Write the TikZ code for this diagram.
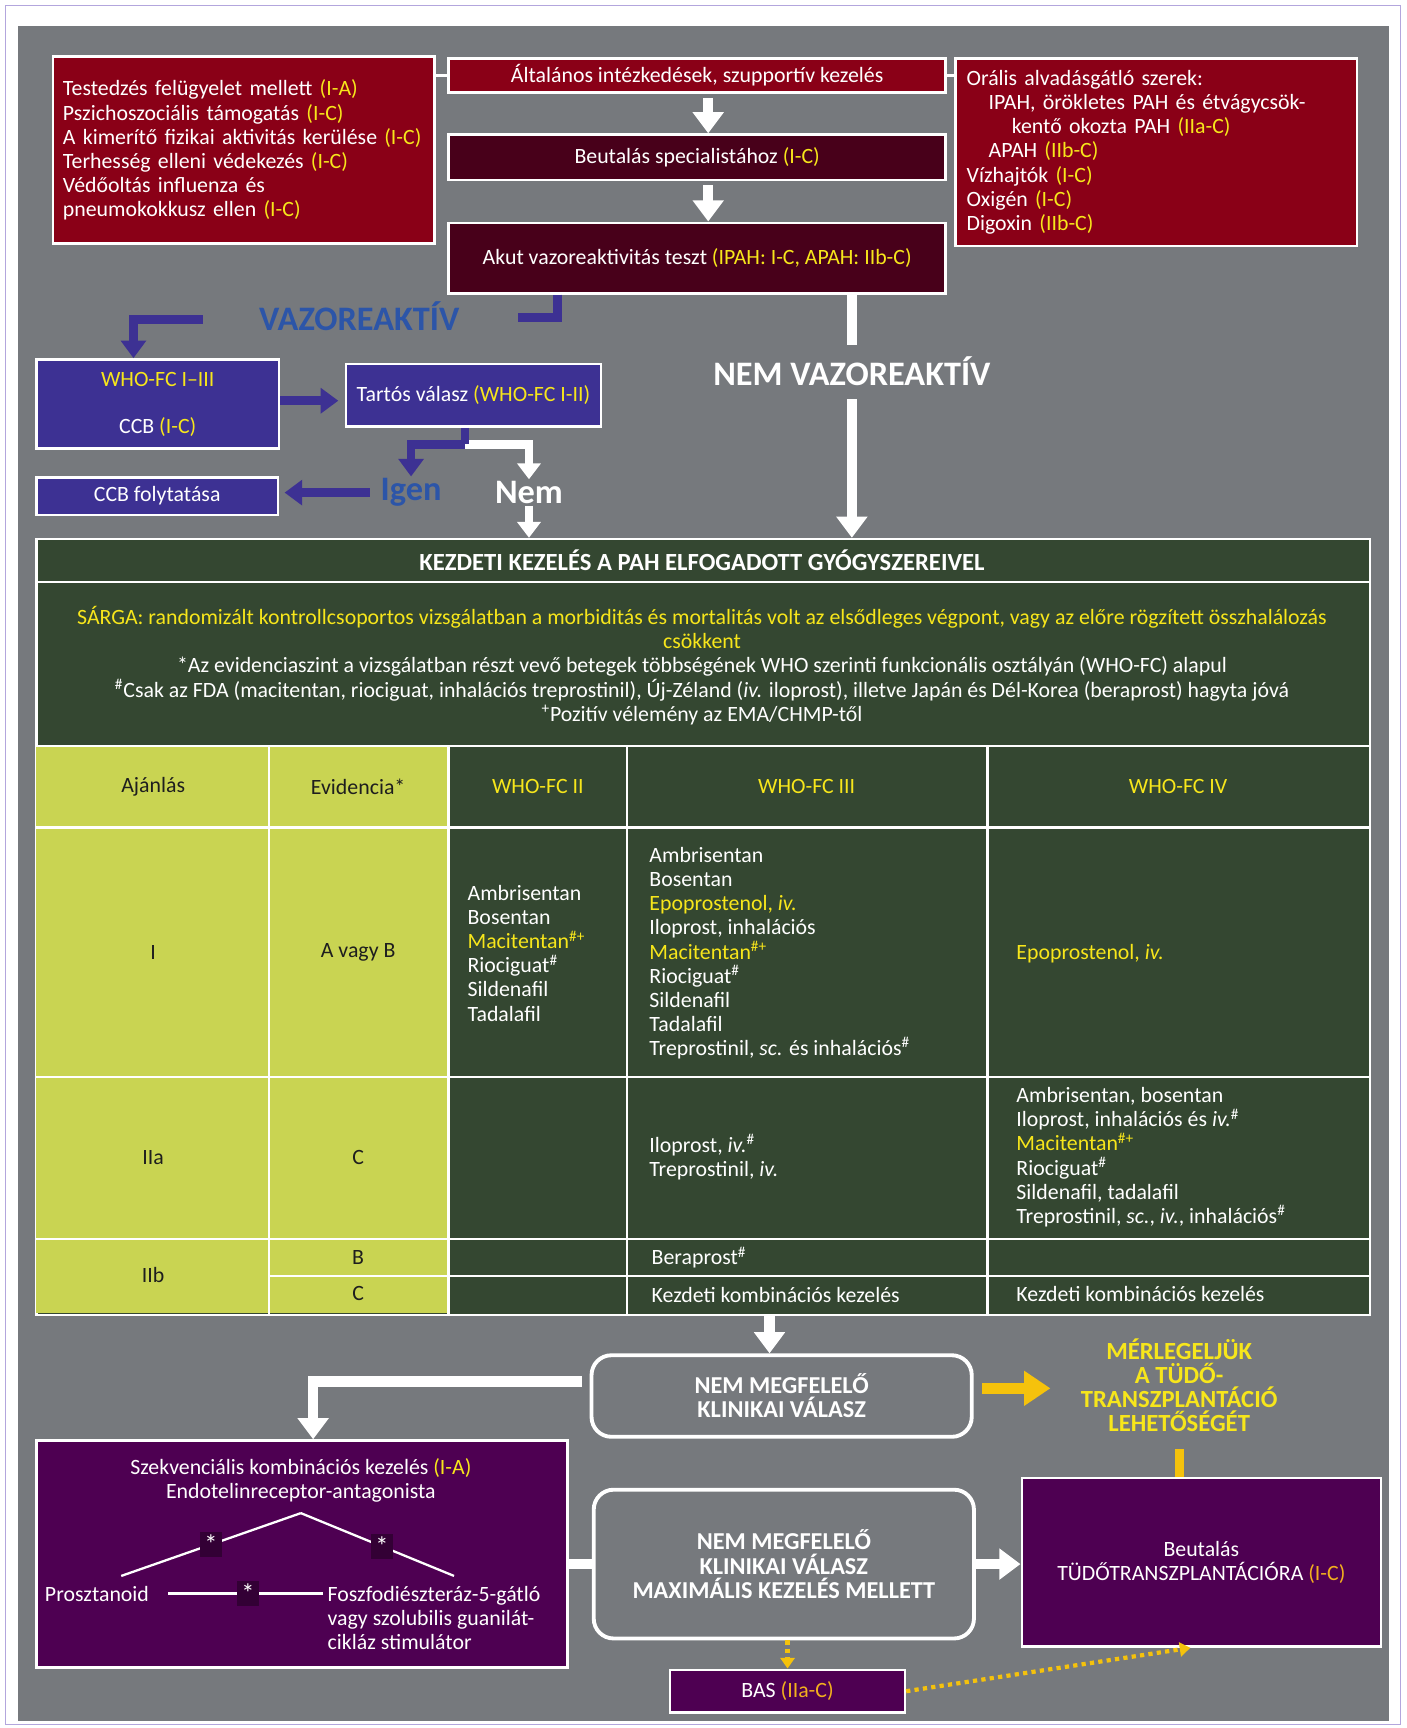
\documentclass[tikz,border=0pt]{standalone}
\usepackage{fontspec}
\setmainfont{Carlito}
\usepackage{xcolor}
\usepackage{tikz}
\usetikzlibrary{arrows.meta,positioning,calc}
\definecolor{panel}{HTML}{76797D}
\definecolor{frameline}{HTML}{B3A6DD}
\definecolor{blood}{HTML}{8A0017}
\definecolor{maroon}{HTML}{48001A}
\definecolor{indigo}{HTML}{3D3193}
\definecolor{skyink}{HTML}{2C55A8}
\definecolor{forest}{HTML}{344731}
\definecolor{lime}{HTML}{C9D452}
\definecolor{plum}{HTML}{4E0052}
\definecolor{lemon}{HTML}{F7E61B}
\definecolor{amber}{HTML}{F5C20C}
\definecolor{ochre}{HTML}{F2B01E}
\definecolor{ink}{HTML}{1E1E1E}
\newlength\px
\setlength\px{0.022cm}
\newcommand{\hl}[1]{\textcolor{lemon}{#1}}
\newcommand{\sh}{\textsuperscript{\#}}
\newcommand{\shp}{\textsuperscript{\#+}}
\newcommand{\lowstar}{\raisebox{-0.35ex}{*}}
\tikzset{
  panelbox/.style={
    rectangle, draw=white, fill=#1, line width=1.4pt,
    text=white, anchor=north west, inner sep=0pt, align=center
  },
  panelbox/.default=blood,
  roundbox/.style={
    rectangle, rounded corners=18\px, draw=white, line width=2.2pt,
    text=white, anchor=north west, inner sep=0pt, align=center,
    font=\bfseries\fontsize{13.8}{13.7}\selectfont
  },
  bigword/.style={font=\bfseries\fontsize{19.5}{21}\selectfont, inner sep=1pt},
  celltext/.style={text=ink, inner sep=0pt},
  druglist/.style={text=white, anchor=west, align=left, inner sep=0pt},
  gridline/.style={draw=white, line width=1.3pt},
  stub/.style={draw=white, line width=1.6pt},
  whiteline/.style={draw=white, line width=6pt},
  whitearrow/.style={-{Triangle[width=17pt, length=12pt]}, draw=white, line width=6pt},
  smallarrow/.style={-{Triangle[width=13pt, length=9pt]}, draw=white, line width=5pt},
  blueline/.style={draw=indigo, line width=5pt},
  bluearrow/.style={-{Triangle[width=14pt, length=10pt]}, draw=indigo, line width=5pt},
  goldline/.style={draw=amber, line width=5pt},
  goldarrow/.style={-{Triangle[width=19pt, length=15pt]}, draw=amber, line width=6pt},
  dotarrow/.style={-{Triangle[width=8pt, length=6pt]}, draw=amber, line width=2.4pt,
    dash pattern=on 2.4pt off 2.4pt},
  treeline/.style={draw=white, line width=1.3pt},
  starmark/.style={fill=plum!65!black, text=white, inner xsep=2.5pt, inner ysep=2pt,
    font=\fontsize{15}{15}\selectfont}
}
\begin{document}
\begin{tikzpicture}[x=0.022cm, y=-0.022cm, font=\fontsize{12.4}{13.7}\selectfont]
  \useasboundingbox (0,0) rectangle (1276,1568);
  \fill[white] (0,0) rectangle (1276,1568);
  \draw[frameline, line width=0.8pt] (5,5) rectangle (1271,1565);
  \fill[panel] (16,24) rectangle (1260,1562);

  \node[panelbox, minimum width=346\px, minimum height=170\px, text width=328\px, align=left] at (47,50) (care) {Testedzés felügyelet mellett \hl{(I-A)}\\
    Pszichoszociális támogatás \hl{(I-C)}\\
    A kimerítő fizikai aktivitás kerülése \hl{(I-C)}\\
    Terhesség elleni védekezés \hl{(I-C)}\\
    Védőoltás influenza és\\
    pneumokokkusz ellen \hl{(I-C)}};
  \node[panelbox, minimum width=451\px, minimum height=31\px] at (406,52) (general) {Általános intézkedések, szupportív kezelés};
  \node[panelbox, minimum width=364\px, minimum height=170\px, text width=344\px, align=left] at (866,52) (oral) {Orális alvadásgátló szerek:\\
    \hspace*{20\px}IPAH, örökletes PAH és étvágycsök-\\
    \hspace*{41\px}kentő okozta PAH \hl{(IIa-C)}\\
    \hspace*{20\px}APAH \hl{(IIb-C)}\\
    Vízhajtók \hl{(I-C)}\\
    Oxigén \hl{(I-C)}\\
    Digoxin \hl{(IIb-C)}};
  \node[panelbox=maroon, minimum width=451\px, minimum height=41\px] at (406,121) (referral) {Beutalás specialistához \hl{(I-C)}};
  \node[panelbox=maroon, minimum width=451\px, minimum height=64\px] at (406,201) (acute) {Akut vazoreaktivitás teszt \hl{(IPAH: I-C, APAH: IIb-C)}};
  \draw[stub] (care.east |- general.west) -- (general.west);
  \draw[stub] (general.east) -- (general.east -| oral.west);
  \draw[whitearrow, shorten <=4\px] ([xshift=10\px]general.south) -- ([xshift=10\px]referral.north);
  \draw[whitearrow, shorten <=4\px] ([xshift=10\px]referral.south) -- ([xshift=10\px]acute.north);

  \node[bigword, text=skyink] at (326,287) (vazo) {VAZOREAKTÍV};
  \coordinate (vazoR) at (470,288);
  \coordinate (vazoL) at (184,290);
  \draw[blueline] ([xshift=-127\px]acute.south) |- (vazoR);
  \node[panelbox=indigo, minimum width=220\px, minimum height=81\px] at (32,325) (fc13) {\hl{WHO-FC I–III}\\[13pt]CCB \hl{(I-C)}};
  \draw[bluearrow] (vazoL) -| ([xshift=-22\px]fc13.north);
  \node[panelbox=indigo, minimum width=231\px, minimum height=57\px] at (313,329) (durable) {Tartós válasz \hl{(WHO-FC I-II)}};
  \draw[bluearrow, shorten >=6\px] ([yshift=3\px]fc13.east) -- ([yshift=3\px]fc13.east -| durable.west);
  \node[bigword, text=skyink] at (373,447) (yes) {Igen};
  \node[bigword, text=white] at (480,447) (no) {Nem};
  \coordinate (split) at (422,403);
  \draw[smallarrow] (split) -| (no.north);
  \draw[blueline] (durable.south -| split) -- (split);
  \draw[bluearrow] (split) -| (yes.north);
  \node[panelbox=indigo, minimum width=219\px, minimum height=34\px] at (32,432) (ccbgo) {CCB folytatása};
  \draw[bluearrow, shorten <=8\px, shorten >=5\px] (yes.west) -- (yes.west -| ccbgo.east);

  \node[bigword, text=white] at (773,337) (novazo) {NEM VAZOREAKTÍV};
  \draw[whiteline] (acute.south -| novazo.north) -- ([yshift=9\px]novazo.north);

  \node[panelbox=forest, minimum width=1210\px, minimum height=704\px] at (32,488) (initial) {};
  \draw[smallarrow] (no.south) -- (no.south |- initial.north);
  \draw[whitearrow] ([yshift=-10\px]novazo.south) -- (novazo.south |- initial.north);
  \fill[lime] (33,677) rectangle (407,1191);
  \foreach \yy in {528,677,751,977,1124} { \draw[gridline] (32,\yy) -- (1242,\yy); }
  \draw[gridline] (244,1158) -- (1242,1158);
  \foreach \xx in {244,407,569,896} { \draw[gridline] (\xx,677) -- (\xx,1192); }
  \node[font=\bfseries\fontsize{14}{14}\selectfont, text=white] at (637,508) (title) {KEZDETI KEZELÉS A PAH ELFOGADOTT GYÓGYSZEREIVEL};
  \node[text=white, align=center] at (637,604) (notes) {\hl{SÁRGA: randomizált kontrollcsoportos vizsgálatban a morbiditás és mortalitás volt az elsődleges végpont, vagy az előre rögzített összhalálozás}\\
    \hl{csökkent}\\
    *Az evidenciaszint a vizsgálatban részt vevő betegek többségének WHO szerinti funkcionális osztályán (WHO-FC) alapul\\
    \sh Csak az FDA (macitentan, riociguat, inhalációs treprostinil), Új-Zéland (\textit{iv.} iloprost), illetve Japán és Dél-Korea (beraprost) hagyta jóvá\\
    \textsuperscript{+}Pozitív vélemény az EMA/CHMP-től};

  \node[celltext] at (139,714) (hrec) {Ajánlás};
  \node[celltext] at (325,714) (hev) {Evidencia*};
  \node[text=lemon] at (488,714) (hfc2) {WHO-FC II};
  \node[text=lemon] at (732,714) (hfc3) {WHO-FC III};
  \node[text=lemon] at (1069,714) (hfc4) {WHO-FC IV};

  \node[celltext] at (139,864) (rec1) {I};
  \node[celltext] at (325,864) (ev1) {A vagy B};
  \node[druglist] at (424,865) (d12) {Ambrisentan\\Bosentan\\\hl{Macitentan\shp}\\Riociguat\sh\\Sildenafil\\Tadalafil};
  \node[druglist] at (589,865) (d13) {Ambrisentan\\Bosentan\\\hl{Epoprostenol, \textit{iv.}}\\Iloprost, inhalációs\\\hl{Macitentan\shp}\\Riociguat\sh\\Sildenafil\\Tadalafil\\Treprostinil, \textit{sc.} és inhalációs\sh};
  \node[druglist] at (922,865) (d14) {\hl{Epoprostenol, \textit{iv.}}};

  \node[celltext] at (139,1050) (rec2) {IIa};
  \node[celltext] at (325,1050) (ev2) {C};
  \node[druglist] at (589,1050) (d23) {Iloprost, \textit{iv.}\sh\\Treprostinil, \textit{iv.}};
  \node[druglist] at (922,1050) (d24) {Ambrisentan, bosentan\\Iloprost, inhalációs és \textit{iv.}\sh\\\hl{Macitentan\shp}\\Riociguat\sh\\Sildenafil, tadalafil\\Treprostinil, \textit{sc.}, \textit{iv.}, inhalációs\sh};

  \node[celltext] at (139,1157) (rec3) {IIb};
  \node[celltext] at (325,1141) (ev3b) {B};
  \node[celltext] at (325,1174) (ev3c) {C};
  \node[druglist] at (591,1141) (d3b) {Beraprost\sh};
  \node[druglist] at (591,1175) (d3c) {Kezdeti kombinációs kezelés};
  \node[druglist] at (922,1174) (d4c) {Kezdeti kombinációs kezelés};

  \node[roundbox, minimum width=345\px, minimum height=74\px] at (535,1228) (poor) {NEM MEGFELELŐ\\KLINIKAI VÁLASZ};
  \draw[whitearrow] ($(poor.north |- initial.south)+(-11,0)$) -- ($(poor.north)+(-11,0)$);
  \node[font=\bfseries\fontsize{14}{13.7}\selectfont, text=lemon, align=center] at (1070,1257) (weigh) {MÉRLEGELJÜK\\A TÜDŐ-\\TRANSZPLANTÁCIÓ\\LEHETŐSÉGÉT};
  \draw[goldarrow, shorten <=8\px, shorten >=22\px] ($(poor.east)+(0,-7)$) -- ($(poor.east -| weigh.west)+(0,-7)$);

  \node[panelbox=plum, minimum width=482\px, minimum height=206\px] at (32,1306) (seq) {};
  \draw[whitearrow, shorten <=7\px] ($(poor.west)+(0,-13)$) -| ([xshift=10\px]seq.north);
  \node[text=white, align=center] at (273,1343) (seqtitle) {Szekvenciális kombinációs kezelés \hl{(I-A)}\\Endotelinreceptor-antagonista};
  \node[text=white] at (88,1446) (prosz) {Prosztanoid};
  \node[text=white, anchor=west, align=left, inner sep=0pt] at (297,1468) (pde) {Foszfodiészteráz-5-gátló\\vagy szolubilis guanilát-\\cikláz stimulátor};
  \coordinate (apex) at (273,1373);
  \coordinate (legL) at (110,1430);
  \coordinate (legR) at (412,1430);
  \draw[treeline] (legL) -- (apex) node[starmark, pos=0.5] {\lowstar};
  \draw[treeline] (apex) -- (legR) node[starmark, pos=0.53] {\lowstar};
  \draw[treeline, shorten >=4\px] ($(prosz.east)+(12,0)$) -- (prosz.east -| pde.west) node[starmark, midway] {\lowstar};

  \node[roundbox, minimum width=345\px, minimum height=135\px] at (537,1350) (maxpoor) {NEM MEGFELELŐ\\KLINIKAI VÁLASZ\\MAXIMÁLIS KEZELÉS MELLETT};
  \draw[whiteline] (maxpoor.west -| seq.east) -- (maxpoor.west);
  \node[panelbox=plum, minimum width=326\px, minimum height=153\px] at (926,1340) (ltx) {Beutalás\\TÜDŐTRANSZPLANTÁCIÓRA \textcolor{ochre}{(I-C)}};
  \draw[whitearrow] (maxpoor.east) -- (maxpoor.east -| ltx.west);
  \draw[goldline, shorten <=10\px] (weigh.south) -- (weigh.south |- ltx.north);

  \node[panelbox=plum, minimum width=213\px, minimum height=39\px] at (607,1514) (bas) {BAS \textcolor{ochre}{(IIa-C)}};
  \draw[dotarrow] (maxpoor.south -| bas.north) -- (bas.north);
  \draw[dotarrow] (bas.east) -- ([xshift=-10\px]ltx.south);
\end{tikzpicture}
\end{document}
